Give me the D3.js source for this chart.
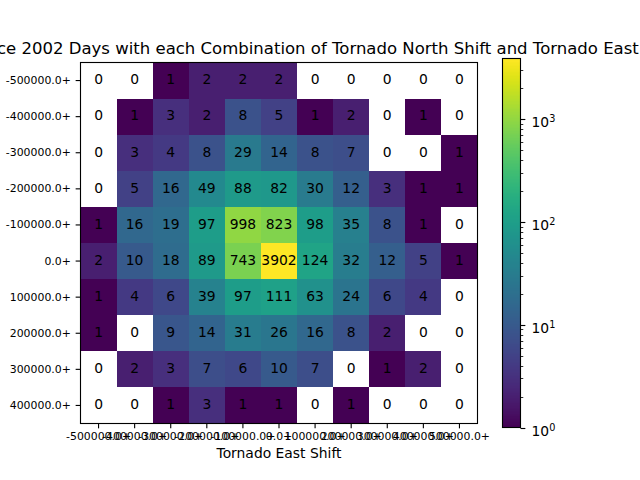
<!DOCTYPE html>
<html>
<head>
<meta charset="utf-8">
<script src="https://cdn.jsdelivr.net/npm/d3@7"></script>
<style>
  html, body { margin: 0; padding: 0; background: #fff; overflow: hidden; }
  svg { display: block; }
  text { font-family: "DejaVu Sans", sans-serif; fill: #000; }
</style>
</head>
<body>
<svg id="chart" width="640" height="480"></svg>
<script>
'use strict';

// Bin labels
const eastShifts = ['-500000.0+', '-400000.0+', '-300000.0+', '-200000.0+', '-100000.0+', '0.0+',
    '100000.0+', '200000.0+', '300000.0+', '400000.0+', '500000.0+'];
const northShifts = ['-500000.0+', '-400000.0+', '-300000.0+', '-200000.0+', '-100000.0+', '0.0+',
    '100000.0+', '200000.0+', '300000.0+', '400000.0+'];

// Day counts, one list per north shift row
const rowM500 = [0, 0, 1, 2, 2, 2, 0, 0, 0, 0, 0];
const rowM400 = [0, 1, 3, 2, 8, 5, 1, 2, 0, 1, 0];
const rowM300 = [0, 3, 4, 8, 29, 14, 8, 7, 0, 0, 1];
const rowM200 = [0, 5, 16, 49, 88, 82, 30, 12, 3, 1, 1];
const rowM100 = [1, 16, 19, 97, 998, 823, 98, 35, 8, 1, 0];
const rowZero = [2, 10, 18, 89, 743, 3902, 124, 32, 12, 5, 1];
const rowP100 = [1, 4, 6, 39, 97, 111, 63, 24, 6, 4, 0];
const rowP200 = [1, 0, 9, 14, 31, 26, 16, 8, 2, 0, 0];
const rowP300 = [0, 2, 3, 7, 6, 10, 7, 0, 1, 2, 0];
const rowP400 = [0, 0, 1, 3, 1, 1, 0, 1, 0, 0, 0];
const counts = [rowM500, rowM400, rowM300, rowM200, rowM100, rowZero, rowP100, rowP200, rowP300, rowP400];

const titleText = 'Since 2002 Days with each Combination of Tornado North Shift and Tornado East Shift';
const xLabelText = 'Tornado East Shift';
const colorTicks = [1, 10, 100, 1000];
const minorBases = [2, 3, 4, 5, 6, 7, 8, 9];

// Layout
const plot = { left: 80.5, right: 477.5, top: 62.5, bottom: 423.5 };
const bar = { left: 502.5, right: 520.5, top: 58.5, bottom: 427.5 };
const maxCount = d3.max(counts, row => d3.max(row));

const svg = d3.select('#chart');

const x = d3.scaleBand().domain(eastShifts).range([plot.left, plot.right]);
const y = d3.scaleBand().domain(northShifts).range([plot.top, plot.bottom]);
const color = d3.scaleSequentialLog(d3.interpolateViridis).domain([1, maxCount]);
const barScale = d3.scaleLog().domain([1, maxCount]).range([bar.bottom, bar.top]);

// Flatten to cells
const cells = [];
counts.forEach((row, r) => {
    row.forEach((value, c) => {
        cells.push({ east: eastShifts[c], north: northShifts[r], value: value });
    });
});

// Zero counts have no colour on a log scale, they stay white
svg.append('g').attr('shape-rendering', 'crispEdges').selectAll('rect')
    .data(cells.filter(d => d.value > 0))
    .join('rect')
    .attr('x', d => x(d.east))
    .attr('y', d => y(d.north))
    .attr('width', x.bandwidth())
    .attr('height', y.bandwidth())
    .attr('fill', d => color(d.value));

svg.append('g').selectAll('text')
    .data(cells)
    .join('text')
    .attr('x', d => x(d.east) + x.bandwidth() / 2)
    .attr('y', d => y(d.north) + y.bandwidth() / 2 + 3.8)
    .attr('text-anchor', 'middle')
    .attr('font-size', 13.89)
    .text(d => d.value);

// Axes
const xAxis = d3.axisBottom(x).tickSize(4.86).tickPadding(4.2);
const yAxis = d3.axisLeft(y).tickSize(4.86).tickPadding(4.8);

const xG = svg.append('g').attr('transform', `translate(0,${plot.bottom})`).call(xAxis);
const yG = svg.append('g').attr('transform', `translate(${plot.left},0)`).call(yAxis);
[xG, yG].forEach(g => {
    g.select('.domain').remove();
    g.selectAll('.tick line').attr('stroke', '#000').attr('stroke-width', 1.11);
    g.selectAll('.tick text').attr('font-size', 10.9).attr('font-family', '"DejaVu Sans", sans-serif').attr('fill', '#000');
});

svg.append('rect')
    .attr('x', plot.left)
    .attr('y', plot.top)
    .attr('width', plot.right - plot.left)
    .attr('height', plot.bottom - plot.top)
    .attr('fill', 'none')
    .attr('stroke', '#000')
    .attr('stroke-width', 1.11);

// Colour bar, one strip per pixel row
const barRows = d3.range(bar.top, bar.bottom, 1);
svg.append('g').attr('shape-rendering', 'crispEdges').selectAll('rect')
    .data(barRows)
    .join('rect')
    .attr('x', bar.left)
    .attr('y', d => d)
    .attr('width', bar.right - bar.left)
    .attr('height', 1.2)
    .attr('fill', d => color(barScale.invert(d + 0.5)));

svg.append('rect')
    .attr('x', bar.left)
    .attr('y', bar.top)
    .attr('width', bar.right - bar.left)
    .attr('height', bar.bottom - bar.top)
    .attr('fill', 'none')
    .attr('stroke', '#000')
    .attr('stroke-width', 1.11);

// Minor ticks for each decade that falls inside the bar
const minorTicks = [];
colorTicks.forEach(decade => {
    minorBases.forEach(m => {
        if (decade * m <= maxCount) minorTicks.push(decade * m);
    });
});

svg.append('g').selectAll('line')
    .data(minorTicks)
    .join('line')
    .attr('x1', bar.right)
    .attr('x2', bar.right + 2.78)
    .attr('y1', d => Math.round(barScale(d)) + 0.5)
    .attr('y2', d => Math.round(barScale(d)) + 0.5)
    .attr('stroke', '#000')
    .attr('stroke-width', 0.83);

const majors = svg.append('g').selectAll('g')
    .data(colorTicks)
    .join('g')
    .attr('transform', d => `translate(${bar.right},${Math.round(barScale(d)) + 0.5})`);

majors.append('line')
    .attr('x2', 4.86)
    .attr('stroke', '#000')
    .attr('stroke-width', 1.11);

const majorLabels = majors.append('text')
    .attr('x', 11)
    .attr('y', 7)
    .attr('font-size', 13.89);
majorLabels.append('tspan').text('10');
majorLabels.append('tspan')
    .attr('dy', -5)
    .attr('font-size', 9.7)
    .text(d => Math.round(Math.log10(d)));

// Title runs past both edges of the page, as in the source figure
svg.append('text')
    .attr('x', 326.5)
    .attr('y', 54)
    .attr('text-anchor', 'middle')
    .attr('font-size', 16.53)
    .text(titleText);

svg.append('text')
    .attr('x', (plot.left + plot.right) / 2)
    .attr('y', 458)
    .attr('text-anchor', 'middle')
    .attr('font-size', 13.89)
    .text(xLabelText);
</script>
</body>
</html>
